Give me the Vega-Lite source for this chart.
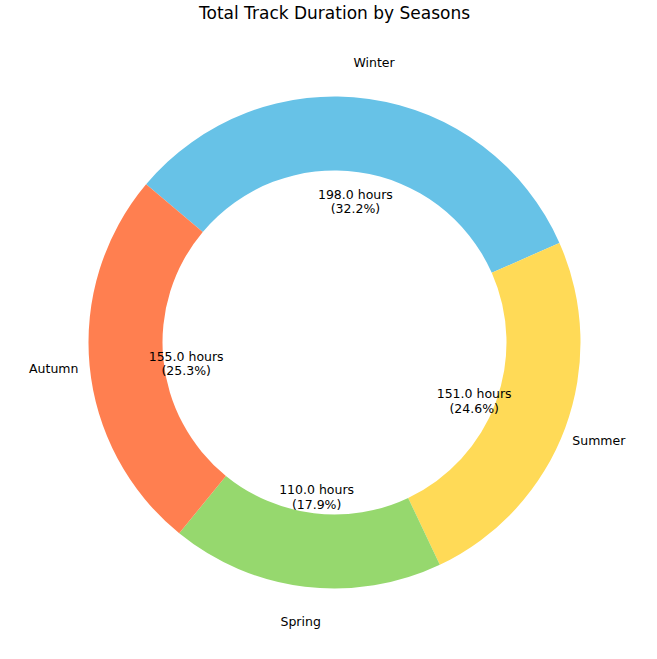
{
  "$schema": "https://vega.github.io/schema/vega-lite/v6.json",
  "width": 657,
  "height": 659,
  "autosize": {"type": "fit", "contains": "padding"},
  "padding": {"left": 12, "right": 0, "top": 5, "bottom": 5},
  "title": {"text": "Total Track Duration by Seasons", "fontSize": 17, "fontWeight": "normal", "font": "DejaVu Sans", "offset": 8},
  "data": {
    "values": [
      {"season": "Winter", "hours": 198, "idx": 1, "label": "198.0 hours\n(32.2%)"},
      {"season": "Summer", "hours": 151, "idx": 2, "label": "151.0 hours\n(24.6%)"},
      {"season": "Spring", "hours": 110, "idx": 3, "label": "110.0 hours\n(17.9%)"},
      {"season": "Autumn", "hours": 155, "idx": 4, "label": "155.0 hours\n(25.3%)"}
    ]
  },
  "encoding": {
    "theta": {"field": "hours", "type": "quantitative", "stack": true, "scale": {"range": [5.411, 11.694]}},
    "order": {"field": "idx", "type": "quantitative"},
    "color": {
      "field": "season", "type": "nominal", "legend": null,
      "scale": {"domain": ["Winter", "Summer", "Spring", "Autumn"], "range": ["#67c2e7", "#ffda57", "#96d86e", "#ff7f50"]}
    }
  },
  "layer": [
    {"mark": {"type": "arc", "outerRadius": 246, "innerRadius": 172, "strokeWidth": 0}},
    {"mark": {"type": "text", "radius": 149, "fontSize": 12.5, "font": "DejaVu Sans", "lineBreak": "\n"},
     "encoding": {"text": {"field": "label"}, "color": {"value": "black"}}},
    {"mark": {"type": "text", "radius": 282, "fontSize": 12.5, "font": "DejaVu Sans"},
     "encoding": {"text": {"field": "season"}, "color": {"value": "black"}}}
  ],
  "view": {"stroke": null}
}
